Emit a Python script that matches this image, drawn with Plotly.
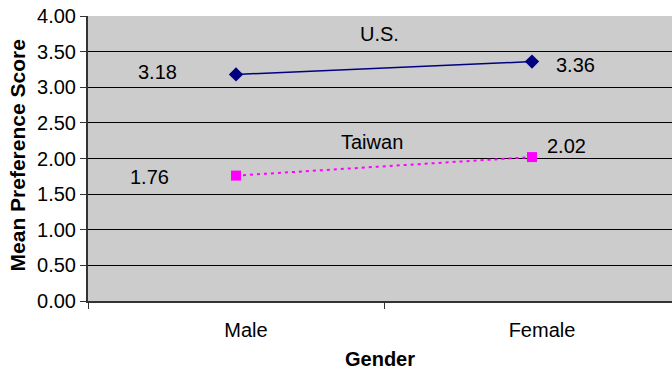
import plotly.graph_objects as go

categories = ["Male", "Female"]
us_values = [3.18, 3.36]
taiwan_values = [1.76, 2.02]
y_ticks = [0, 0.5, 1, 1.5, 2, 2.5, 3, 3.5, 4]
y_tick_labels = ["0.00", "0.50", "1.00", "1.50", "2.00", "2.50", "3.00", "3.50", "4.00"]

FONT = "Liberation Sans, Arial, sans-serif"

fig = go.Figure()
fig.add_trace(go.Scatter(
    x=categories, y=us_values, mode="lines+markers", name="U.S.",
    line=dict(color="#000080", width=1.5),
    marker=dict(symbol="diamond", size=11, color="#000080"),
))
fig.add_trace(go.Scatter(
    x=categories, y=taiwan_values, mode="lines+markers", name="Taiwan",
    line=dict(color="#ff00ff", width=2, dash="3px,4px"),
    marker=dict(symbol="square", size=10, color="#ff00ff"),
))

labels = [
    ("U.S.", 0.485, 3.745),
    (f"{us_values[0]:.2f}", -0.266, 3.21),
    (f"{us_values[1]:.2f}", 1.148, 3.31),
    ("Taiwan", 0.461, 2.23),
    (f"{taiwan_values[1]:.2f}", 1.118, 2.18),
    (f"{taiwan_values[0]:.2f}", -0.293, 1.74),
]
for text, x, y in labels:
    fig.add_annotation(x=x, y=y, xref="x", yref="y", text=text, showarrow=False,
                       font=dict(family=FONT, size=20, color="black"))

# y-axis title
fig.add_annotation(x=-0.1207, y=0.509, xref="paper", yref="paper",
                   xanchor="center", yanchor="middle",
                   text="<b>Mean Preference Score</b>", textangle=-90, showarrow=False,
                   font=dict(family=FONT, size=21, color="black"))

fig.update_layout(
    width=672, height=370,
    margin=dict(l=88, r=0, t=16, b=69),
    paper_bgcolor="white", plot_bgcolor="#cccccc",
    showlegend=False,
    font=dict(family=FONT, color="black"),
)
fig.update_xaxes(
    type="category", range=[-0.5, 1.473], tickson="boundaries", automargin=False,
    ticks="outside", ticklen=6, tickcolor="#333", tickwidth=1,
    showline=True, linecolor="#333", linewidth=1.5, showgrid=False,
    tickfont=dict(family=FONT, size=20), ticklabelshift=10, ticklabelstandoff=10,
    title=dict(text="<b>Gender</b>", font=dict(family=FONT, size=20), standoff=12),
)
fig.update_yaxes(
    range=[0, 4], tickvals=y_ticks, ticktext=y_tick_labels, automargin=False,
    ticks="outside", ticklen=6, tickcolor="#333",
    showline=True, linecolor="#333", linewidth=2,
    showgrid=True, gridcolor="black", gridwidth=1, zeroline=False,
    tickfont=dict(family=FONT, size=20),
)

fig.write_html("out.html", config={"displayModeBar": False},
               post_script="document.body.style.margin='0px';")
